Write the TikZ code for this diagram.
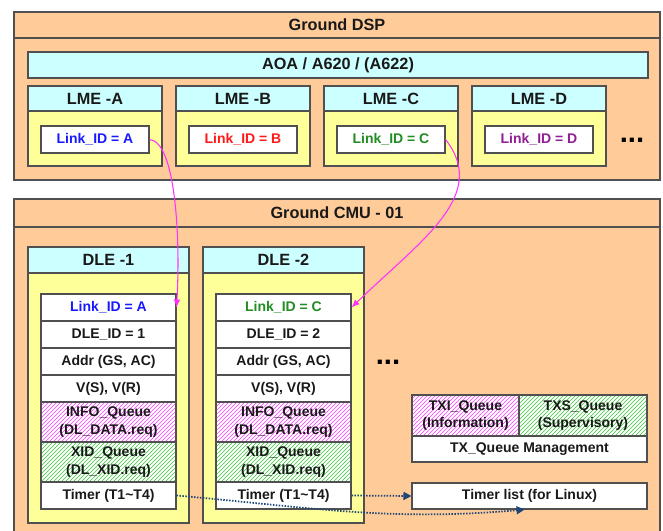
\documentclass[tikz,border=0pt]{standalone}
\usepackage{fontspec}
\setmainfont{Liberation Sans}
\usetikzlibrary{patterns,arrows.meta,shadows}

\definecolor{gndorange}{HTML}{FFCC99}
\definecolor{hdrcyan}{HTML}{CCFFFF}
\definecolor{boxyellow}{HTML}{FFFF99}
\definecolor{lidA}{RGB}{25,25,255}
\definecolor{lidB}{RGB}{255,25,25}
\definecolor{lidC}{RGB}{35,140,35}
\definecolor{lidD}{RGB}{145,30,150}
\definecolor{hatchpink}{RGB}{255,60,255}
\definecolor{hatchgreen}{RGB}{60,200,60}
\definecolor{linkpink}{RGB}{255,50,255}
\definecolor{timerblue}{RGB}{30,70,120}
\definecolor{edgegray}{RGB}{80,80,80}

\tikzset{
  frame/.style={draw=edgegray, line width=0.9pt},
  headtext/.style={font=\fontsize{12.2}{14}\selectfont\bfseries, text=black!90, inner sep=0pt},
  headbar/.style={frame, fill=hdrcyan, inner sep=0pt, font=\fontsize{12.2}{14}\selectfont\bfseries, text=black!90},
  cellbase/.style={draw=edgegray, line width=0.8pt, inner sep=0pt, align=center,
    font=\fontsize{10.5}{13}\selectfont\bfseries, text=black!90,
    minimum width=101.25pt, minimum height=20.25pt,
    drop shadow={shadow xshift=0.8pt, shadow yshift=-0.8pt, fill=black!40, opacity=1}},
  cell/.style={cellbase, fill=white},
  pinkq/.style={cellbase, minimum height=30pt, preaction={fill=white}, pattern=north east lines, pattern color=hatchpink},
  greenq/.style={cellbase, minimum height=30pt, preaction={fill=white}, pattern=north east lines, pattern color=hatchgreen},
  linkarrow/.style={draw=linkpink, line width=0.8pt, -{Latex[length=6pt,width=5pt]}},
  timerarrow/.style={draw=timerblue, line width=1.3pt, dash pattern=on 1.1pt off 1.1pt, -{Triangle[length=6pt,width=6pt]}},
  more/.style={font=\fontsize{22}{22}\selectfont\bfseries, inner sep=0pt}
}

\begin{document}
\begin{tikzpicture}[x=0.75pt, y=-0.75pt]
  \useasboundingbox (0,0) rectangle (663,531);
  \clip (0,0) rectangle (663,531);

  %%%%% GROUND DSP %%%%%
  \draw[frame, fill=gndorange] (14,12) rectangle (660,180);
  \draw[frame] (14,38) -- (660,38);
  \node[headtext] (dsp) at (337,25) {Ground DSP};
  \node[headbar, minimum width=465pt, minimum height=19.5pt] (aoa) at (338,65) {AOA / A620 / (A622)};

  \foreach \x/\l/\col in {28/A/lidA, 176/B/lidB, 324/C/lidC, 472/D/lidD}{
    \draw[frame, fill=boxyellow] (\x,86) rectangle ++(134,80);
    \draw[frame, fill=hdrcyan] (\x,86) rectangle ++(134,25);
    \node[headtext] (lme\l) at (\x+67,98.5) {LME -\l};
    \node[cell, minimum width=81pt, text=\col] (lid\l) at (\x+67,139.5) {Link\_ID = \l};
  }
  \node[more] (dspmore) at (632,140) {...};

  %%%%% GROUND CMU %%%%%
  \fill[gndorange] (14,199) rectangle (660,540);
  \draw[frame] (14,540) -- (14,199) -- (660,199) -- (660,540);
  \draw[frame] (14,227) -- (660,227);
  \node[headtext] (cmu) at (337,213) {Ground CMU - 01};

  \foreach \x/\n/\l/\col in {28/1/A/lidA, 203/2/C/lidC}{
    \draw[frame, fill=boxyellow] (\x,247) rectangle ++(161,276);
    \draw[frame, fill=hdrcyan] (\x,247) rectangle ++(161,26);
    \node[headtext] (dle\n) at (\x+80.5,260) {DLE -\n};
    \node[cell, text=\col] (link\n) at (\x+80.5,307.5) {Link\_ID = \l};
    \node[cell] (dleid\n) at (\x+80.5,334.5) {DLE\_ID = \n};
    \node[cell] (addr\n) at (\x+80.5,361.5) {Addr (GS, AC)};
    \node[cell] (vsr\n) at (\x+80.5,388.5) {V(S), V(R)};
    \node[pinkq] (info\n) at (\x+80.5,422) {INFO\_Queue\\(DL\_DATA.req)};
    \node[greenq] (xid\n) at (\x+80.5,462) {XID\_Queue\\(DL\_XID.req)};
    \node[cell] (timer\n) at (\x+80.5,495.5) {Timer (T1\textasciitilde T4)};
  }
  \node[more] (cmumore) at (388,362) {...};

  % tx queues
  \node[pinkq, minimum width=80.25pt, minimum height=30.75pt] (txi) at (465.5,415.5) {TXI\_Queue\\(Information)};
  \node[greenq, minimum width=96pt, minimum height=30.75pt] (txs) at (583,415.5) {TXS\_Queue\\(Supervisory)};
  \node[cell, minimum width=176.25pt, minimum height=19.5pt] (txmgmt) at (529.5,449) {TX\_Queue Management};
  \node[cell, minimum width=176.25pt, minimum height=19.5pt] (timerlist) at (529.5,496) {Timer list (for Linux)};

  %%%%% LINKS %%%%%
  \draw[linkarrow] (lidA.east) .. controls +(26,2) and +(4,-70) .. (link1.east);
  \draw[linkarrow] (lidC.east) .. controls +(44,56) and +(69,-67) .. (link2.east);
  \draw[timerarrow] (timer1.east) .. controls +(136,12) and +(-136,12) .. (timerlist.250);
  \draw[timerarrow] (timer2.east) -- (timerlist.west);
\end{tikzpicture}
\end{document}
